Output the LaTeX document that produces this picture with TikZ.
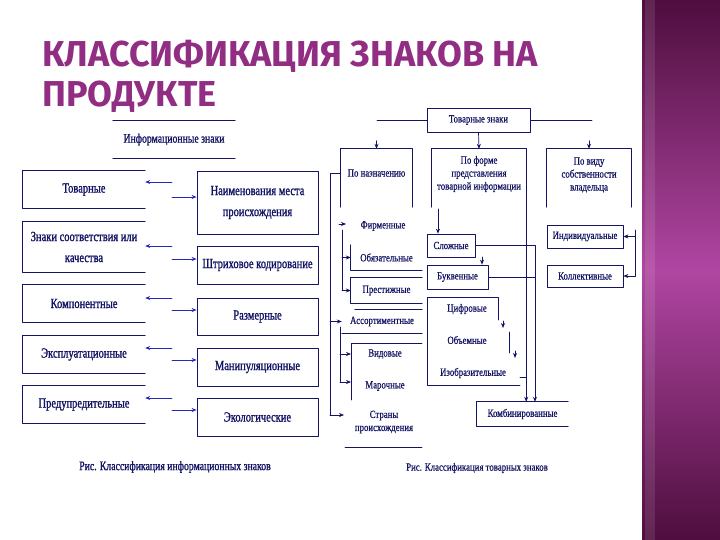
\documentclass[tikz,border=0pt]{standalone}
\usepackage{fontspec}
\setmainfont{Liberation Serif}
\newfontfamily\titlefont{Fira Sans}
\newfontfamily\bigfont[FakeStretch=0.75,FakeBold=1.2]{Liberation Serif}
\newfontfamily\smallfont[FakeStretch=0.8,FakeBold=0.6]{Liberation Serif}
\usetikzlibrary{arrows.meta,positioning}

\definecolor{ink}{RGB}{20,20,100}
\definecolor{arrowblue}{RGB}{40,40,190}
\definecolor{titlepurple}{RGB}{145,45,130}
\definecolor{titleedge}{RGB}{95,20,85}
\definecolor{bardark}{RGB}{78,14,62}
\definecolor{barmid}{RGB}{176,70,162}

\tikzset{
	wire/.style={draw=ink, line width=0.7bp},
	arr/.style={draw=arrowblue, line width=0.7bp, ->},
	lbox/.style={inner sep=0, minimum width=122bp, text=ink, align=center},
	rbox/.style={draw=ink, line width=0.8bp, inner sep=0, minimum width=121bp, text=ink, align=center},
	item/.style={inner sep=0, text=ink, align=center, font=\smallfont\fontsize{11bp}{13bp}\selectfont},
	ibox/.style={item, draw=ink, line width=0.7bp},
	headline/.style={anchor=base west, inner sep=0, text=titlepurple, font=\titlefont\bfseries\fontsize{36bp}{40bp}\selectfont},
}

\begin{document}
\begin{tikzpicture}[x=1bp, y=-1bp, line cap=round, line join=round, >={Stealth[length=5bp,width=4bp]}, font=\bigfont\fontsize{14bp}{21bp}\selectfont]
	\useasboundingbox (0,0) rectangle (720,540);
	\fill[white] (0,0) rectangle (720,540);
	% purple bar at the right
	\shade[top color=bardark, bottom color=bardark, middle color=barmid] (642,0) rectangle (720,540);
	\fill[white, opacity=0.1] (645,0) rectangle (655,540);
	
	% title
	\node[headline] (title1) at (42,67) {КЛАССИФИКАЦИЯ ЗНАКОВ НА};
	\node[headline] (title2) at (42,107) {ПРОДУКТЕ};
	
	\begin{scope}
		% информационные знаки
		\node[lbox, minimum height=37bp, font=\bigfont\fontsize{13bp}{15bp}\selectfont] (info) at (174,139.5) {Информационные знаки};
		\draw[wire] (info.north west) -- (info.north east) (info.south west) -- (info.south east);
		
		\node[lbox, minimum height=37bp] (tov) at (84,189.5) {Товарные};
		\node[lbox, minimum height=50bp] (kach) at (84,247) {Знаки соответствия или\\качества};
		\node[lbox, minimum height=37bp] (komp) at (84,303.5) {Компонентные};
		\node[lbox, minimum height=37bp] (expl) at (84,354.5) {Эксплуатационные};
		\node[lbox, minimum height=37bp] (pred) at (84,404.5) {Предупредительные};
		\foreach \n in {tov,kach,komp,expl,pred} {
			\draw[wire] (\n.north east) -- (\n.north west) -- (\n.south west) -- (\n.south east);
		}
		
		\node[rbox, minimum height=63bp] (mesto) at (257.5,202.5) {Наименования места\\происхождения};
		\node[rbox, minimum height=38bp] (shtrih) at (257.5,265) {Штриховое кодирование};
		\node[rbox, minimum height=37bp] (razm) at (257.5,316.5) {Размерные};
		\node[rbox, minimum height=38bp] (manip) at (257.5,367) {Манипуляционные};
		\node[rbox, minimum height=38bp] (ekol) at (257.5,417) {Экологические};
		
		\foreach \l/\r/\yl/\yr in {tov/mesto/182/197, kach/shtrih/246/259, komp/razm/298/310, expl/manip/348/360, pred/ekol/398/410} {
			\coordinate (from\l) at (172,\yl);
			\coordinate (from\r) at (172,\yr);
			\draw[arr] (from\l) -- (\l.east |- from\l);
			\draw[arr] (from\r) -- (\r.west |- from\r);
		}
		
		\node[text=ink, font=\bigfont\fontsize{13bp}{15bp}\selectfont] (capinfo) at (175,467) {Рис. Классификация информационных знаков};
	\end{scope}
	
	\begin{scope}
		% товарные знаки
		\node[ibox, minimum width=103bp, minimum height=24bp] (tz) at (478.5,120) {Товарные знаки};
		\node[item, minimum width=71bp, minimum height=48bp] (pn) at (376.5,173) {По назначению};
		\node[item, minimum width=94bp, minimum height=50bp] (pf) at (479,174) {По форме\\представления\\товарной информации};
		\node[item, minimum width=84bp, minimum height=52bp] (pv) at (589,175) {По виду\\собственности\\владельца};
		\foreach \n/\s in {pn/10,pf/8,pv/6} {
			\draw[wire] ([yshift=-\s bp]\n.south west) -- (\n.north west) -- (\n.north east) -- ([yshift=-\s bp]\n.south east);
		}
		\draw[wire] (tz.west) -- (377,120);
		\draw[wire] (tz.east) -- (592,120);
		\draw[wire,->] ([yshift=8bp]pn.north) -- (pn.north);
		\draw[wire,->] ([yshift=8bp]pv.north) -- (pv.north);
		\draw[wire,->] (tz.south) -- (pf.north);
		
		% по назначению
		\node[item] (firm) at (383,226) {Фирменные};
		\node[item, minimum width=71bp, minimum height=25bp] (obyaz) at (386.5,257.5) {Обязательные};
		\node[item, minimum width=71bp, minimum height=25bp] (prest) at (386.5,290.5) {Престижные};
		\node[item, minimum width=80bp, minimum height=23bp] (assort) at (382,321.5) {Ассортиментные};
		\node[item] (vid) at (385,354) {Видовые};
		\node[item] (maroch) at (385,386) {Марочные};
		\node[item] (strana) at (384,422) {Страны\\происхождения};
		\draw[wire] (obyaz.north west) -- (obyaz.south west) -- (obyaz.south east);
		\draw[wire] (prest.north east) -- (prest.north west) -- (prest.south west) -- (prest.south east);
		\draw[wire] ([xshift=13bp]assort.north west) -- (assort.north east) (assort.south west) -- (assort.south east);
		\draw[wire] (422,343) -- (351,343) -- (351,400);
		\draw[wire] (345,447) -- (422,447);
		
		\draw[wire] (pn.west) -- (330,173) -- (330,415);
		\draw[wire,->] (330,321.5) -- (assort.west);
		\draw[wire,->] (330,415) -- (344,415);
		\draw[wire,->] (339,224) -- (346,224);
		\draw[wire] (342,230) -- (342,290.5);
		\draw[wire,->] (342,257.5) -- (obyaz.west);
		\draw[wire,->] (342,290.5) -- (prest.west);
		\draw[wire] (340,327) -- (340,382);
		\draw[wire,->] (340,354) -- (351,354);
		\draw[wire,->] (340,382) -- (351,382);
		
		% по форме
		\node[ibox, minimum width=48bp, minimum height=23bp] (slozh) at (451,245.5) {Сложные};
		\node[ibox, minimum width=61bp, minimum height=24bp] (bukv) at (457.5,277) {Буквенные};
		\node[item] (cifr) at (467,309) {Цифровые};
		\node[item] (obyom) at (467,340) {Объемные};
		\node[item] (izob) at (473,373) {Изобразительные};
		\node[item, minimum width=91bp, minimum height=24bp] (komb) at (522.5,414) {Комбинированные};
		\draw[wire] (komb.north east) -- (komb.north west) -- (komb.south west) -- (komb.south east);
		\draw[wire] (498,320) -- (498,297) -- (427,297) -- (427,385) -- (520,385);
		\draw[wire] (509,332) -- (509,353);
		\draw[wire,->] (503,321) -- (503,328);
		\draw[wire,->] (515,351) -- (515,358);
		\draw[wire,->] (438,209) -- (slozh.north -| 438,0);
		\draw[wire,->] (482,257) -- (bukv.north -| 482,0);
		\coordinate (kombin) at ([xshift=12.5bp]komb.north);
		\draw[wire,->] (slozh.east) -| (kombin);
		\draw[wire] (bukv.east) -- (bukv.east -| kombin);
		\draw[wire] (520,377) -- (526,377);
		\draw[wire,->] (pf.north east) -- (pf.north east |- komb.north);
		
		% по виду
		\node[ibox, minimum width=76bp, minimum height=23bp] (indiv) at (585,236.5) {Индивидуальные};
		\node[ibox, minimum width=76bp, minimum height=22bp] (koll) at (585,276) {Коллективные};
		\coordinate (pvbus) at (635,230);
		\draw[wire,->] (pvbus) |- (koll.east);
		\draw[wire,->] (pvbus |- indiv.east) -- (indiv.east);
		
		\node[item] (captov) at (477,468) {Рис. Классификация товарных знаков};
	\end{scope}
\end{tikzpicture}
\end{document}
